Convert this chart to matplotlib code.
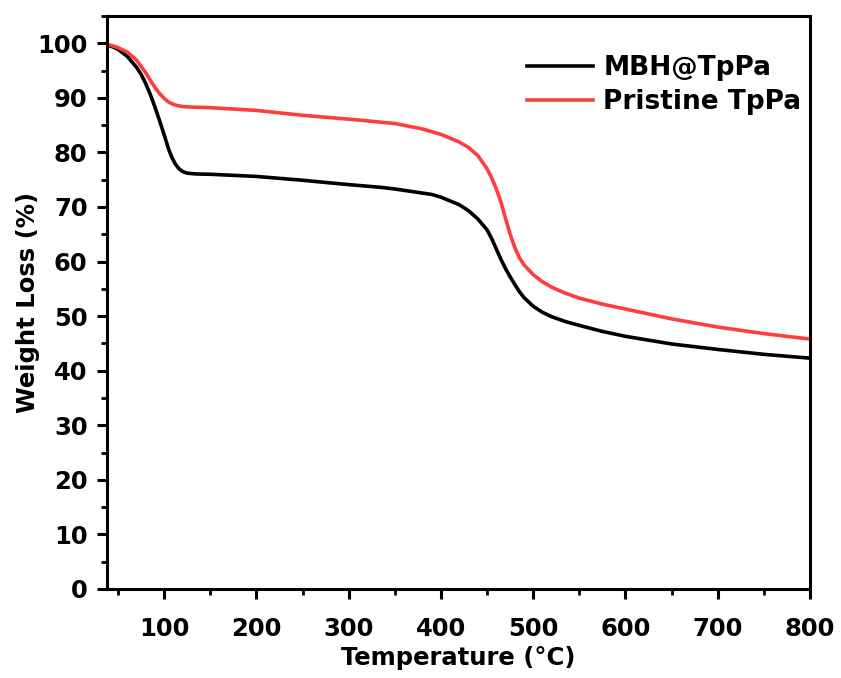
import matplotlib
matplotlib.use("Agg")
import matplotlib.pyplot as plt
from matplotlib.ticker import MultipleLocator

temp_mbh = [38, 45, 50, 60, 70, 75, 80, 85, 90, 95, 100, 105, 108, 112, 116, 120, 125, 135,
            150, 200, 250, 300, 335, 350, 390, 400, 420, 430, 440, 450, 455, 460, 465, 470,
            475, 480, 485, 490, 500, 510, 520, 535, 550, 575, 600, 650, 700, 750, 800]
mbh = [99.7, 99.3, 98.9, 97.6, 95.6, 94.3, 92.6, 90.6, 88.3, 85.8, 83.2, 80.5, 79.2, 77.9,
       77.0, 76.5, 76.2, 76.05, 76.0, 75.6, 74.9, 74.1, 73.6, 73.3, 72.3, 71.8, 70.4, 69.3,
       67.8, 65.8, 64.2, 62.3, 60.4, 58.7, 57.2, 55.8, 54.5, 53.4, 51.8, 50.7, 49.9, 49.0,
       48.3, 47.2, 46.3, 44.9, 43.9, 43.0, 42.3]

temp_pr = [38, 45, 50, 60, 70, 80, 85, 90, 95, 100, 105, 110, 115, 120, 130, 150, 200, 250,
           300, 350, 380, 400, 420, 430, 440, 450, 455, 460, 465, 470, 475, 480, 485, 490,
           500, 510, 520, 535, 550, 575, 600, 650, 700, 750, 800]
pristine = [99.8, 99.5, 99.2, 98.4, 96.9, 94.6, 93.2, 91.9, 90.8, 89.9, 89.2, 88.8, 88.55,
            88.4, 88.3, 88.2, 87.7, 86.8, 86.1, 85.3, 84.3, 83.3, 81.9, 80.9, 79.4, 77.0,
            75.3, 73.3, 70.9, 67.9, 65.0, 62.6, 60.7, 59.4, 57.6, 56.3, 55.3, 54.2, 53.3,
            52.2, 51.3, 49.5, 48.0, 46.8, 45.8]

labels = ["MBH@TpPa", "Pristine TpPa"]
colors = ["#000000", "#ff3d3d"]

plt.rcParams['font.family'] = ['DejaVu Sans']
plt.rcParams['font.weight'] = 'bold'

fig = plt.figure(figsize=(8.41, 6.78), dpi=100)
ax = fig.add_axes([107/841, 1-589/678, 703/841, 573/678])

ax.plot(temp_mbh, mbh, color=colors[0], lw=2.6, label=labels[0])
ax.plot(temp_pr, pristine, color=colors[1], lw=2.6, label=labels[1])

ax.set_xlim(38, 800)
ax.set_ylim(0, 105)
ax.xaxis.set_major_locator(MultipleLocator(100))
ax.xaxis.set_minor_locator(MultipleLocator(50))
ax.yaxis.set_major_locator(MultipleLocator(10))
ax.yaxis.set_minor_locator(MultipleLocator(5))

for s in ax.spines.values():
    s.set_linewidth(2.2)
ax.tick_params(which='major', direction='out', length=7, width=2.2, labelsize=17.5)
ax.tick_params(axis='x', which='major', pad=13)
ax.tick_params(axis='y', which='major', pad=7)
ax.tick_params(which='minor', direction='out', length=4, width=2.0)
ax.tick_params(top=False, right=False, which='both')
for t in ax.get_xticklabels() + ax.get_yticklabels():
    t.set_fontweight('bold')

ax.set_xlabel("Temperature (°C)", fontsize=17.5, fontweight='bold', labelpad=4)
ax.set_ylabel("Weight Loss (%)", fontsize=17.5, fontweight='bold', labelpad=-2)

leg = ax.legend(loc='upper right', bbox_to_anchor=(1.014, 0.964), frameon=False,
                fontsize=19, handlelength=2.5, handletextpad=0.4, labelspacing=0.3,
                borderaxespad=0.3)
for t in leg.get_texts():
    t.set_fontweight('bold')

fig.savefig("out.png", dpi=100)
